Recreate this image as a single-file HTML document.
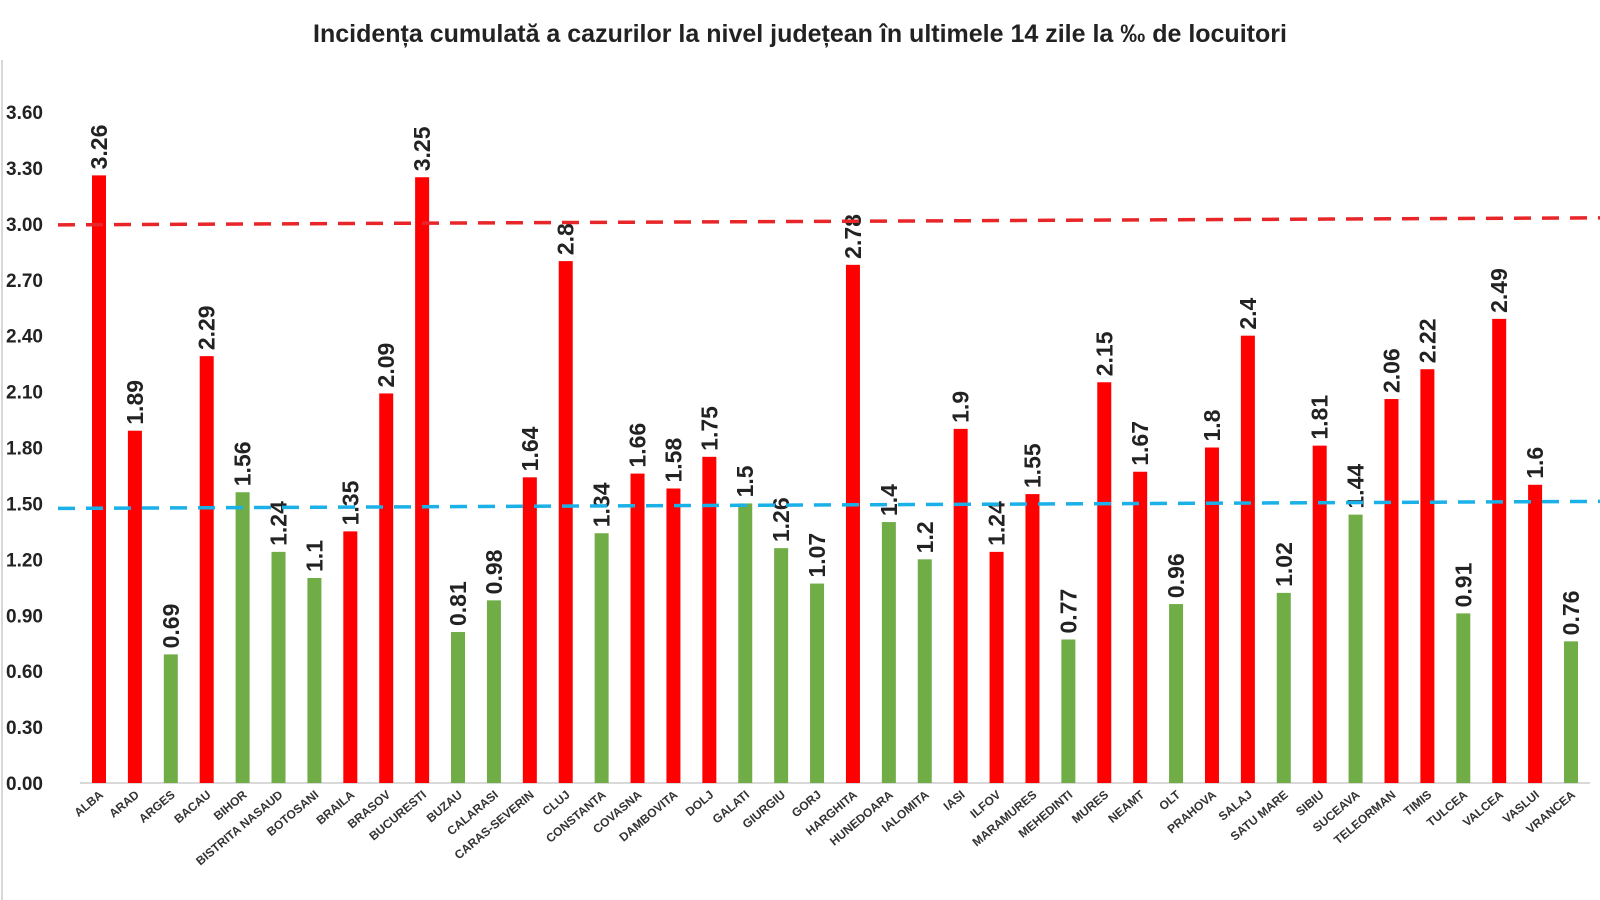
<!DOCTYPE html>
<html><head><meta charset="utf-8"><style>
html,body{margin:0;padding:0;background:#fff;}
svg{display:block;font-family:"Liberation Sans",sans-serif;}
</style></head><body>
<svg id="chart" width="1600" height="900" viewBox="0 0 1600 900">
<rect x="0" y="0" width="1600" height="900" fill="#fff"/>
<line x1="2" y1="60" x2="2" y2="900" stroke="#ccc" stroke-width="1.5"/>
<text x="800" y="42" text-anchor="middle" font-size="25" font-weight="bold" fill="#222">Incidența cumulată a cazurilor la nivel județean în ultimele 14 zile la ‰ de locuitori</text>
<g id="yaxis"></g>
<g id="bars"></g>
<g id="refs"></g>
<g id="xaxis"></g>
</svg>
<script>
const categories=["ALBA","ARAD","ARGES","BACAU","BIHOR","BISTRITA NASAUD","BOTOSANI","BRAILA","BRASOV","BUCURESTI","BUZAU","CALARASI","CARAS-SEVERIN","CLUJ","CONSTANTA","COVASNA","DAMBOVITA","DOLJ","GALATI","GIURGIU","GORJ","HARGHITA","HUNEDOARA","IALOMITA","IASI","ILFOV","MARAMURES","MEHEDINTI","MURES","NEAMT","OLT","PRAHOVA","SALAJ","SATU MARE","SIBIU","SUCEAVA","TELEORMAN","TIMIS","TULCEA","VALCEA","VASLUI","VRANCEA"];
const values=[3.26,1.89,0.69,2.29,1.56,1.24,1.1,1.35,2.09,3.25,0.81,0.98,1.64,2.8,1.34,1.66,1.58,1.75,1.5,1.26,1.07,2.78,1.4,1.2,1.9,1.24,1.55,0.77,2.15,1.67,0.96,1.8,2.4,1.02,1.81,1.44,2.06,2.22,0.91,2.49,1.6,0.76];
const groups=["r","r","g","r","g","g","g","r","r","r","g","g","r","r","g","r","r","r","g","g","g","r","g","g","r","r","r","g","r","r","g","r","r","g","r","g","r","r","g","r","r","g"];
const yTicks=[0,0.3,0.6,0.9,1.2,1.5,1.8,2.1,2.4,2.7,3.0,3.3,3.6];
const thresholdHigh=3.0;
const thresholdLow=1.5;
const NS="http://www.w3.org/2000/svg";
const y0=783,yTop=112,yMax=3.6;
const yScale=v=>y0-(v/yMax)*(y0-yTop);
const xScale=i=>99+i*(1571-99)/(categories.length-1);
const barW=14;
function mk(tag,attrs,parent){const e=document.createElementNS(NS,tag);for(const k in attrs)e.setAttribute(k,attrs[k]);parent.appendChild(e);return e;}
const yaxis=document.getElementById('yaxis'),bars=document.getElementById('bars'),refs=document.getElementById('refs'),xaxis=document.getElementById('xaxis');
yTicks.forEach(t=>{const e=mk('text',{x:6,y:yScale(t)+7,'font-size':19,'font-weight':'bold',fill:'#222'},yaxis);e.textContent=t.toFixed(2);

});
const ax=mk('line',{x1:80,y1:y0,x2:1590,y2:y0,stroke:'#d9d9d9','stroke-width':2},yaxis);


categories.forEach((c,i)=>{const x=xScale(i),v=values[i];
const r=mk('rect',{x:x-barW/2,y:yScale(v),width:barW,height:y0-yScale(v),fill:groups[i]==='r'?'#ff0000':'#70ad47'},bars);


const ly=yScale(v)-6;
const t=mk('text',{x:x+8,y:ly,'font-size':23,'font-weight':'bold',fill:'#222',transform:`rotate(-90 ${x+8} ${ly})`},bars);t.textContent=String(v);


const lx=x+5,lyy=796;
const xl=mk('text',{x:lx,y:lyy,'font-size':12,'font-weight':'bold',fill:'#333','text-anchor':'end',transform:`rotate(-40 ${lx} ${lyy})`},xaxis);xl.textContent=c;

});
const lh=mk('line',{x1:58,y1:yScale(thresholdHigh)+1,x2:1600,y2:yScale(thresholdHigh)-6,stroke:'#e8262a','stroke-width':3.5,'stroke-dasharray':'17 11'},refs);


const ll=mk('line',{x1:58,y1:yScale(thresholdLow)+5,x2:1600,y2:yScale(thresholdLow)-2,stroke:'#1ab0e8','stroke-width':3.5,'stroke-dasharray':'17 11'},refs);


</script>
</body></html>
